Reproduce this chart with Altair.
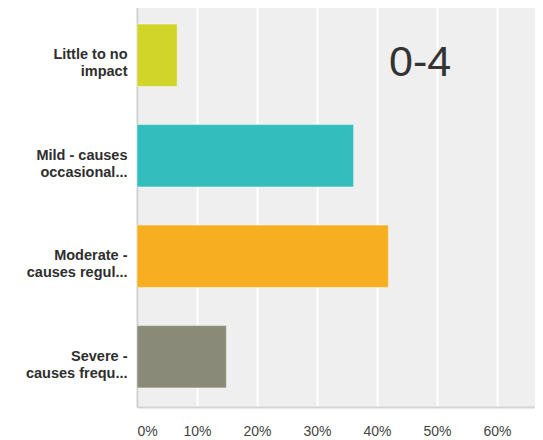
import altair as alt
import pandas as pd

categories = [
    "Little to no\nimpact",
    "Mild - causes\noccasional...",
    "Moderate -\ncauses regul...",
    "Severe -\ncauses frequ...",
]
values = [0.067, 0.361, 0.419, 0.149]
colors = ["#d1d52a", "#33bdbd", "#f7af21", "#8a8a78"]
tick_values = [0, 0.1, 0.2, 0.3, 0.4, 0.5, 0.6]
annotation = "0-4"

df = pd.DataFrame({"cat": categories, "val": values})

bars = alt.Chart(df).mark_bar(
    stroke="white", strokeOpacity=0.45, strokeWidth=1
).encode(
    y=alt.Y(
        "cat:N",
        sort=categories,
        title=None,
        scale=alt.Scale(paddingInner=0.38, paddingOuter=0.19),
        axis=alt.Axis(
            labelExpr="split(datum.label, '\\n')",
            labelFont="Liberation Sans",
            labelFontSize=14.5,
            labelFontWeight="bold",
            labelColor="#2e2e2e",
            labelLineHeight=17,
            labelPadding=10,
            labelLimit=200,
            ticks=False,
            grid=False,
            domainColor="#d0d0d0",
            domainWidth=2,
        ),
    ),
    x=alt.X(
        "val:Q",
        title=None,
        scale=alt.Scale(domain=[0, 0.6633], nice=False, zero=True),
        axis=alt.Axis(
            values=tick_values,
            format=".0%",
            labelFont="Liberation Sans",
            labelFontSize=14,
            labelColor="#444444",
            labelPadding=17,
            labelFlush=True,
            ticks=False,
            grid=True,
            gridColor="#ffffff",
            gridWidth=2,
            domainColor="#d4d4d4",
            domainWidth=2,
        ),
    ),
    color=alt.Color(
        "cat:N",
        sort=categories,
        scale=alt.Scale(domain=categories, range=colors),
        legend=None,
    ),
)

label = alt.Chart(pd.DataFrame({"t": [annotation]})).mark_text(
    font="Liberation Sans",
    fontSize=43,
    color="#333333",
    align="left",
    baseline="alphabetic",
).encode(text="t:N", x=alt.value(252), y=alt.value(71))

chart = alt.layer(bars, label).properties(
    width=398,
    height=402,
    autosize=alt.AutoSizeParams(type="none"),
    padding={"left": 129, "top": -3, "right": 0, "bottom": 33},
).configure_view(fill="#efefef", stroke=None)

chart.save("out.html", embed_options={"renderer": "svg", "actions": False})
